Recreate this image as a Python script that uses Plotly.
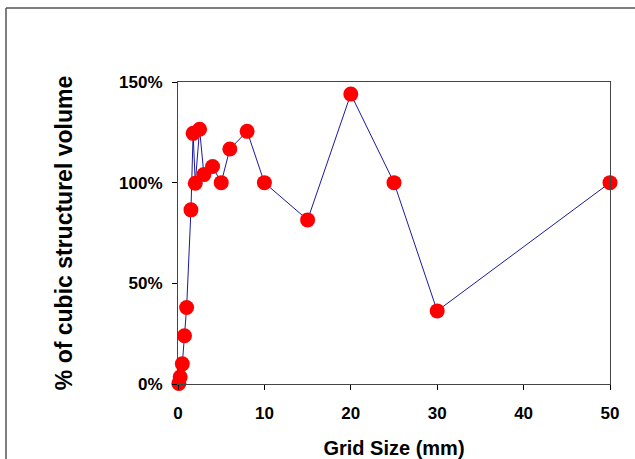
import plotly.graph_objects as go

grid_size = [0.1, 0.25, 0.5, 0.75, 1, 1.5, 1.75, 2, 2.5, 3, 4, 5, 6, 8, 10, 15, 20, 25, 30, 50]
pct_volume = [0.003, 0.035, 0.10, 0.24, 0.38, 0.865, 1.245, 0.997, 1.265, 1.04, 1.08, 1.0, 1.167, 1.255, 1.0, 0.815, 1.44, 1.0, 0.363, 1.0]
x_ticks = [0, 10, 20, 30, 40, 50]
y_ticks = [0, 0.5, 1.0, 1.5]

W, H = 635, 459
L, R, T, B = 178, 25, 82, 75

fig = go.Figure()
fig.add_trace(go.Scatter(
    x=grid_size, y=pct_volume, mode="lines+markers",
    line=dict(color="#1a1aa0", width=1),
    marker=dict(color="#ff0000", size=15, line=dict(width=0)),
    cliponaxis=False, showlegend=False,
))

fam = "Liberation Sans, Arial, sans-serif"
fig.update_layout(
    width=W, height=H,
    margin=dict(l=L, r=R, t=T, b=B),
    paper_bgcolor="white", plot_bgcolor="white",
    font=dict(family=fam, color="black"),
    xaxis=dict(
        range=[0, 50], tickvals=x_ticks, ticktext=[f"<b>{v}</b>" for v in x_ticks],
        ticks="outside", ticklen=5, tickcolor="black", showgrid=False, zeroline=False,
        showline=True, linecolor="#444", linewidth=1, mirror=True, automargin=False,
        tickfont=dict(size=17, family=fam), ticklabelstandoff=9,
        title=dict(text="<b>Grid Size (mm)</b>", font=dict(size=20, family=fam), standoff=26),
    ),
    yaxis=dict(
        range=[0, 1.5], tickvals=y_ticks, ticktext=[f"<b>{int(v*100)}%</b>" for v in y_ticks],
        ticks="outside", ticklen=5, tickcolor="black", showgrid=False, zeroline=False,
        showline=True, linecolor="#444", linewidth=1, mirror=True, automargin=False,
        tickfont=dict(size=17, family=fam), ticklabelstandoff=6,
        title=dict(text="<b>% of cubic structurel volume</b>", font=dict(size=23, family=fam), standoff=40),
    ),
)

# outer chart-area border (partially visible: left and top edges)
plot_w = W - L - R
plot_h = H - T - B
xl = (6 - L) / plot_w
yt = 1 + (T - 8) / plot_h
fig.add_shape(type="line", xref="paper", yref="paper", x0=xl, x1=xl, y0=-1, y1=yt,
              line=dict(color="#555", width=1.5))
fig.add_shape(type="line", xref="paper", yref="paper", x0=xl, x1=2, y0=yt, y1=yt,
              line=dict(color="#555", width=1.5))

fig.write_html("out.html")
